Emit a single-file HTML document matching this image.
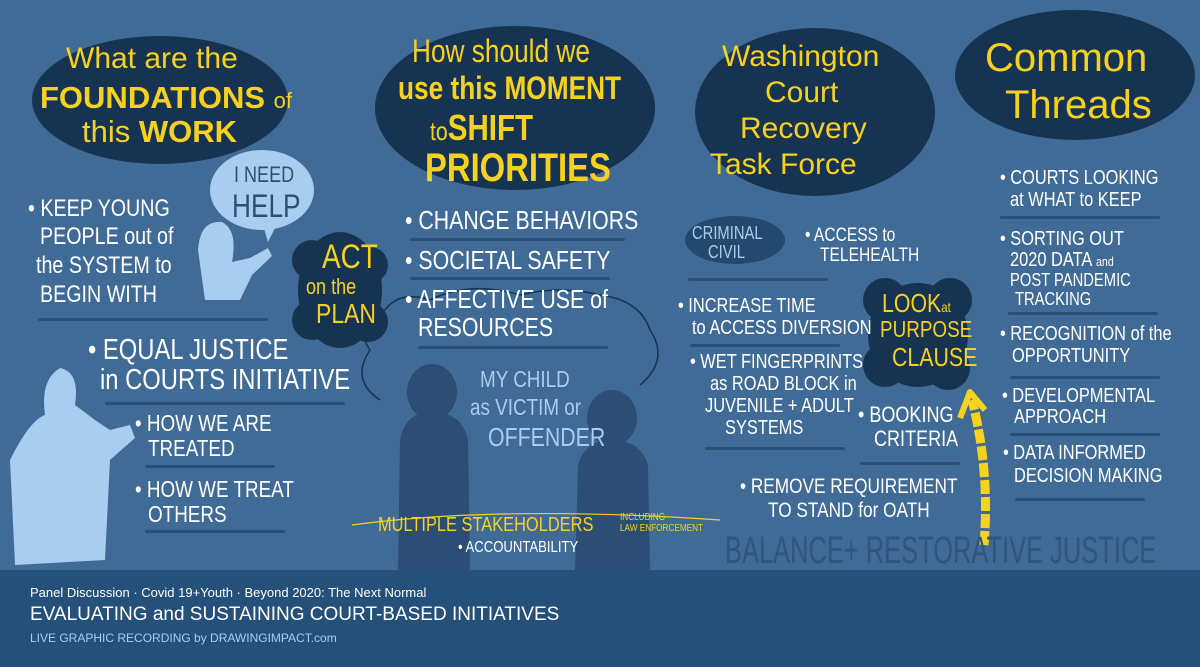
<!DOCTYPE html>
<html><head><meta charset="utf-8"><style>
body{margin:0}
#c{position:relative;width:1200px;height:667px;background:#406b96;overflow:hidden;font-family:"Liberation Sans Narrow","Liberation Sans",sans-serif}
.t{position:absolute;white-space:nowrap;color:#fff;line-height:1;transform:scaleX(.82);transform-origin:0 0}
.n{transform:none}
.y{color:#f6d21e;font-weight:bold}
.l{color:#a8cdee}
.u{position:absolute;height:3px;background:#2b5078;border-radius:2px}
</style></head><body><div id="c">
<svg width="1200" height="667" style="position:absolute;left:0;top:0">
<ellipse cx="160" cy="100" rx="128" ry="64" fill="#163452"/>
<ellipse cx="515" cy="108" rx="140" ry="82" fill="#163452"/>
<ellipse cx="815" cy="112" rx="120" ry="84" fill="#163452"/>
<ellipse cx="1075" cy="75" rx="120" ry="65" fill="#163452"/>
<g fill="#163452">
<ellipse cx="340" cy="290" rx="42" ry="58"/><circle cx="312" cy="260" r="20"/><circle cx="370" cy="265" r="18"/><circle cx="312" cy="320" r="20"/><circle cx="368" cy="322" r="20"/>
<ellipse cx="918" cy="335" rx="50" ry="52"/><circle cx="885" cy="300" r="22"/><circle cx="950" cy="300" r="22"/><circle cx="885" cy="365" r="22"/><circle cx="948" cy="368" r="22"/>
</g>
<ellipse cx="735" cy="240" rx="50" ry="24" fill="#24496e"/>
<ellipse cx="262" cy="190" rx="52" ry="40" fill="#a8cdee"/>
<path d="M262 222 L268 242 L278 222Z" fill="#a8cdee"/>
<path d="M205 300 L198 250 Q200 220 222 222 Q238 230 232 262 L250 258 L268 248 L272 256 L252 275 L240 300Z" fill="#a8cdee"/>
<path d="M15 565 L10 460 Q30 420 45 415 Q40 380 60 368 Q80 372 75 405 L95 420 L110 430 L130 425 L135 438 L110 460 L105 560Z" fill="#a8cdee"/>
<path d="M380 400 Q350 380 370 350 Q350 320 385 310 Q400 290 430 300 Q470 280 520 295 Q560 285 600 295 Q640 300 650 330 Q670 360 640 385" fill="none" stroke="#163452" stroke-width="1.5"/>
<g fill="#2c4e74">
<ellipse cx="432" cy="392" rx="25" ry="28"/><path d="M398 570 L400 440 Q405 412 432 412 Q462 412 468 440 L470 570Z"/>
<ellipse cx="612" cy="418" rx="25" ry="28"/><path d="M575 570 L578 465 Q585 440 612 440 Q640 440 648 465 L650 570Z"/>
</g>
<path d="M352 525 Q500 505 720 520" fill="none" stroke="#f6d21e" stroke-width="1.2"/>
<path d="M984 545 Q990 470 972 400" fill="none" stroke="#f6d21e" stroke-width="9" stroke-dasharray="14 3"/>
<path d="M960 418 L970 392 L985 410" fill="none" stroke="#f6d21e" stroke-width="6" stroke-linejoin="round"/>
<rect x="0" y="570" width="1200" height="97" fill="#24507a"/>
</svg>

<div class="t y n" style="left:66px;top:44px;font-size:30px;font-weight:normal">What are the</div>
<div class="t y n" style="left:40px;top:82px;font-size:31px">FOUNDATIONS <span style="font-size:22px;font-weight:normal">of</span></div>
<div class="t y n" style="left:82px;top:116px;font-size:31px"><span style="font-weight:normal">this</span> WORK</div>

<div class="t y" style="left:412px;top:35px;font-size:32px;font-weight:normal">How should we</div>
<div class="t y" style="left:398px;top:72px;font-size:32px">use this MOMENT</div>
<div class="t y" style="left:430px;top:110px;font-size:36px"><span style="font-size:26px;font-weight:normal">to</span>SHIFT</div>
<div class="t y" style="left:425px;top:148px;font-size:40px">PRIORITIES</div>

<div class="t y n" style="left:722px;top:42px;font-size:30px;font-weight:normal">Washington</div>
<div class="t y n" style="left:765px;top:78px;font-size:30px;font-weight:normal">Court</div>
<div class="t y n" style="left:740px;top:114px;font-size:30px;font-weight:normal">Recovery</div>
<div class="t y n" style="left:710px;top:150px;font-size:30px;font-weight:normal">Task Force</div>

<div class="t y n" style="left:985px;top:38px;font-size:40px;font-weight:normal">Common</div>
<div class="t y n" style="left:1005px;top:85px;font-size:40px;font-weight:normal">Threads</div>

<div class="t" style="left:234px;top:164px;font-size:22px;color:#2b5078">I NEED</div>
<div class="t" style="left:232px;top:190px;font-size:32px;color:#2b5078">HELP</div>

<div class="t" style="left:28px;top:197px;font-size:24px">• KEEP YOUNG</div>
<div class="t" style="left:40px;top:225px;font-size:24px">PEOPLE out of</div>
<div class="t" style="left:36px;top:254px;font-size:24px">the SYSTEM to</div>
<div class="t" style="left:40px;top:283px;font-size:24px">BEGIN WITH</div>
<div class="u" style="left:38px;top:318px;width:230px"></div>

<div class="t y" style="left:322px;top:240px;font-size:34px;font-weight:normal">ACT</div>
<div class="t y" style="left:306px;top:276px;font-size:22px;font-weight:normal">on the</div>
<div class="t y" style="left:316px;top:300px;font-size:28px;font-weight:normal">PLAN</div>

<div class="t" style="left:88px;top:336px;font-size:29px">• EQUAL JUSTICE</div>
<div class="t" style="left:100px;top:366px;font-size:29px">in COURTS INITIATIVE</div>
<div class="u" style="left:105px;top:402px;width:240px"></div>
<div class="t" style="left:135px;top:412px;font-size:23px">• HOW WE ARE</div>
<div class="t" style="left:148px;top:437px;font-size:23px">TREATED</div>
<div class="u" style="left:145px;top:465px;width:130px"></div>
<div class="t" style="left:135px;top:478px;font-size:23px">• HOW WE TREAT</div>
<div class="t" style="left:148px;top:503px;font-size:23px">OTHERS</div>
<div class="u" style="left:145px;top:530px;width:140px"></div>

<div class="t" style="left:405px;top:207px;font-size:26px">• CHANGE BEHAVIORS</div>
<div class="u" style="left:410px;top:238px;width:215px"></div>
<div class="t" style="left:405px;top:247px;font-size:26px">• SOCIETAL SAFETY</div>
<div class="u" style="left:410px;top:277px;width:200px"></div>
<div class="t" style="left:405px;top:286px;font-size:26px">• AFFECTIVE USE of</div>
<div class="t" style="left:418px;top:314px;font-size:26px">RESOURCES</div>
<div class="u" style="left:418px;top:346px;width:190px"></div>

<div class="t l" style="left:480px;top:368px;font-size:23px">MY CHILD</div>
<div class="t l" style="left:470px;top:396px;font-size:23px">as VICTIM or</div>
<div class="t l" style="left:488px;top:424px;font-size:26px">OFFENDER</div>

<div class="t y" style="left:378px;top:515px;font-size:20px;font-weight:normal">MULTIPLE STAKEHOLDERS</div>
<div class="t y" style="left:620px;top:512px;font-size:10px;font-weight:normal;line-height:1.1">INCLUDING<br>LAW ENFORCEMENT</div>
<div class="t" style="left:458px;top:540px;font-size:16px">• ACCOUNTABILITY</div>

<div class="t l" style="left:692px;top:224px;font-size:18px">CRIMINAL</div>
<div class="t l" style="left:708px;top:243px;font-size:18px">CIVIL</div>
<div class="t" style="left:805px;top:226px;font-size:19px">• ACCESS to</div>
<div class="t" style="left:820px;top:246px;font-size:19px">TELEHEALTH</div>
<div class="u" style="left:688px;top:278px;width:140px"></div>
<div class="t" style="left:678px;top:296px;font-size:20px">• INCREASE TIME</div>
<div class="t" style="left:692px;top:318px;font-size:20px">to ACCESS DIVERSION</div>
<div class="u" style="left:690px;top:344px;width:150px"></div>
<div class="t" style="left:690px;top:352px;font-size:20px">• WET FINGERPRINTS</div>
<div class="t" style="left:710px;top:374px;font-size:20px">as ROAD BLOCK in</div>
<div class="t" style="left:705px;top:396px;font-size:20px">JUVENILE + ADULT</div>
<div class="t" style="left:725px;top:418px;font-size:20px">SYSTEMS</div>
<div class="u" style="left:705px;top:447px;width:140px"></div>
<div class="t" style="left:858px;top:404px;font-size:22px">• BOOKING</div>
<div class="t" style="left:874px;top:428px;font-size:22px">CRITERIA</div>
<div class="u" style="left:860px;top:462px;width:100px"></div>
<div class="t" style="left:740px;top:476px;font-size:21px">• REMOVE REQUIREMENT</div>
<div class="t" style="left:768px;top:500px;font-size:21px">TO STAND for OATH</div>

<div class="t y" style="left:882px;top:290px;font-size:26px;font-weight:normal">LOOK<span style="font-size:14px">at</span></div>
<div class="t y" style="left:880px;top:318px;font-size:23px;font-weight:normal">PURPOSE</div>
<div class="t y" style="left:892px;top:344px;font-size:26px;font-weight:normal">CLAUSE</div>

<div class="t" style="left:725px;top:532px;font-size:38px;color:#2d5680;transform:scaleX(.67)">BALANCE+ RESTORATIVE JUSTICE</div>

<div class="t" style="left:1000px;top:168px;font-size:20px">• COURTS LOOKING</div>
<div class="t" style="left:1010px;top:190px;font-size:20px">at WHAT to KEEP</div>
<div class="u" style="left:1000px;top:216px;width:160px"></div>
<div class="t" style="left:1000px;top:229px;font-size:20px">• SORTING OUT</div>
<div class="t" style="left:1010px;top:250px;font-size:20px">2020 DATA <span style="font-size:13px">and</span></div>
<div class="t" style="left:1010px;top:271px;font-size:18px">POST PANDEMIC</div>
<div class="t" style="left:1015px;top:290px;font-size:18px">TRACKING</div>
<div class="u" style="left:1008px;top:312px;width:150px"></div>
<div class="t" style="left:1000px;top:324px;font-size:20px">• RECOGNITION of the</div>
<div class="t" style="left:1012px;top:346px;font-size:20px">OPPORTUNITY</div>
<div class="u" style="left:1010px;top:376px;width:150px"></div>
<div class="t" style="left:1002px;top:386px;font-size:20px">• DEVELOPMENTAL</div>
<div class="t" style="left:1014px;top:407px;font-size:20px">APPROACH</div>
<div class="u" style="left:1010px;top:433px;width:150px"></div>
<div class="t" style="left:1003px;top:443px;font-size:20px">• DATA INFORMED</div>
<div class="t" style="left:1014px;top:466px;font-size:20px">DECISION MAKING</div>
<div class="u" style="left:1015px;top:498px;width:130px"></div>

<div class="t n" style="left:30px;top:586px;font-size:13px">Panel Discussion · Covid 19+Youth · Beyond 2020: The Next Normal</div>
<div class="t n" style="left:30px;top:605px;font-size:19px">EVALUATING and SUSTAINING COURT-BASED INITIATIVES</div>
<div class="t l n" style="left:30px;top:632px;font-size:12px">LIVE GRAPHIC RECORDING by DRAWINGIMPACT.com</div>
</div></body></html>
